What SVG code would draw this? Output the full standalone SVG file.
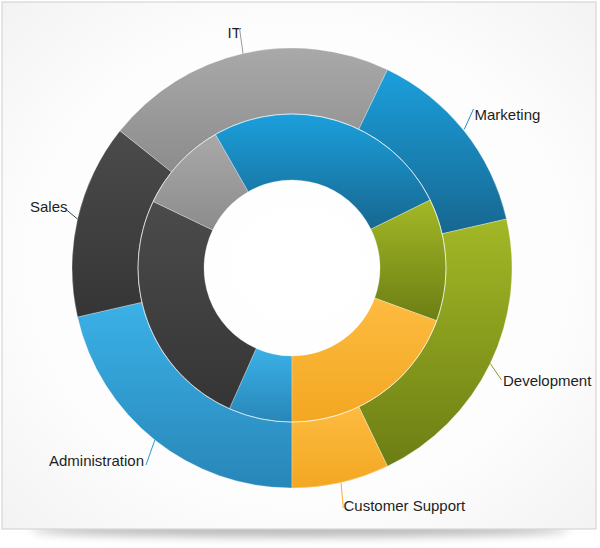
<svg xmlns="http://www.w3.org/2000/svg" width="600" height="548" viewBox="0 0 600 548">
<defs>
<radialGradient id="bg" cx="0.5" cy="0.5" r="0.75">
<stop offset="0" stop-color="#ffffff"/>
<stop offset="0.6" stop-color="#fdfdfd"/>
<stop offset="1" stop-color="#f1f1f1"/>
</radialGradient>
<filter id="blur" x="-20%" y="-200%" width="140%" height="500%">
<feGaussianBlur stdDeviation="5"/>
</filter>
<linearGradient id="gBlue" x1="0" y1="0" x2="0" y2="1"><stop offset="0" stop-color="#1b9fdc"/><stop offset="1" stop-color="#176790"/></linearGradient>
<linearGradient id="gLBlue" x1="0" y1="0" x2="0" y2="1"><stop offset="0" stop-color="#3bb1e7"/><stop offset="1" stop-color="#2886b8"/></linearGradient>
<linearGradient id="gGreen" x1="0" y1="0" x2="0" y2="1"><stop offset="0" stop-color="#a3b826"/><stop offset="1" stop-color="#6c7e14"/></linearGradient>
<linearGradient id="gOrange" x1="0" y1="0" x2="0" y2="1"><stop offset="0" stop-color="#fdbb40"/><stop offset="1" stop-color="#f3a722"/></linearGradient>
<linearGradient id="gGray" x1="0" y1="0" x2="0" y2="1"><stop offset="0" stop-color="#a9a9a9"/><stop offset="1" stop-color="#8c8c8c"/></linearGradient>
<linearGradient id="gDark" x1="0" y1="0" x2="0" y2="1"><stop offset="0" stop-color="#4b4b4b"/><stop offset="1" stop-color="#353535"/></linearGradient>
</defs>
<style>
.seg{stroke:#ffffff;stroke-opacity:0.4;stroke-width:0.7;stroke-linejoin:round}
.lbl{font-family:"Liberation Sans",Arial,sans-serif;font-size:15px;fill:#1e1e1e}
.lead{fill:none;stroke-width:1}
</style>
<ellipse cx="300" cy="530" rx="270" ry="7" fill="#000" opacity="0.28" filter="url(#blur)"/>
<rect x="2" y="2" width="594" height="527" fill="url(#bg)" stroke="#d6d6d6" stroke-width="1.2"/>

<g id="administration">
<path class="seg" fill="url(#gLBlue)" d="M 292 488 A 220 220 0 0 1 77.52 316.95 L 141.86 302.27 A 154 154 0 0 0 292 422 Z"/>
<path class="seg" fill="url(#gLBlue)" d="M 292 422 A 154 154 0 0 1 229.36 408.69 L 256.21 348.39 A 88 88 0 0 0 292 356 Z"/>
<text class="lbl" x="49" y="466">Administration</text>
</g>
<g id="sales">
<path class="seg" fill="url(#gDark)" d="M 77.52 316.95 A 220 220 0 0 1 120.00 130.83 L 171.60 171.98 A 154 154 0 0 0 141.86 302.27 Z"/>
<path class="seg" fill="url(#gDark)" d="M 229.36 408.69 A 154 154 0 0 1 153.12 201.46 L 212.64 229.98 A 88 88 0 0 0 256.21 348.39 Z"/>
<text class="lbl" x="30" y="212">Sales</text>
</g>
<g id="it">
<path class="seg" fill="url(#gGray)" d="M 120.00 130.83 A 220 220 0 0 1 387.45 69.79 L 358.82 129.25 A 154 154 0 0 0 171.60 171.98 Z"/>
<path class="seg" fill="url(#gGray)" d="M 153.12 201.46 A 154 154 0 0 1 215.47 134.36 L 248.27 191.64 A 88 88 0 0 0 212.64 229.98 Z"/>
<text class="lbl" x="227.5" y="37.5">IT</text>
</g>
<g id="marketing">
<path class="seg" fill="url(#gBlue)" d="M 387.45 69.79 A 220 220 0 0 1 506.48 219.05 L 442.14 233.73 A 154 154 0 0 0 358.82 129.25 Z"/>
<path class="seg" fill="url(#gBlue)" d="M 215.47 134.36 A 154 154 0 0 1 430.18 200.01 L 370.96 229.15 A 88 88 0 0 0 248.27 191.64 Z"/>
<text class="lbl" x="474.5" y="119.5">Marketing</text>
</g>
<g id="development">
<path class="seg" fill="url(#gGreen)" d="M 506.48 219.05 A 220 220 0 0 1 387.45 466.21 L 358.82 406.75 A 154 154 0 0 0 442.14 233.73 Z"/>
<path class="seg" fill="url(#gGreen)" d="M 430.18 200.01 A 154 154 0 0 1 436.71 320.67 L 374.69 298.10 A 88 88 0 0 0 370.96 229.15 Z"/>
<text class="lbl" x="503" y="386">Development</text>
</g>
<g id="customer-support">
<path class="seg" fill="url(#gOrange)" d="M 387.45 466.21 A 220 220 0 0 1 292 488 L 292 422 A 154 154 0 0 0 358.82 406.75 Z"/>
<path class="seg" fill="url(#gOrange)" d="M 436.71 320.67 A 154 154 0 0 1 292 422 L 292 356 A 88 88 0 0 0 374.69 298.10 Z"/>
<text class="lbl" x="343.5" y="511">Customer Support</text>
</g>
<circle cx="292" cy="268" r="154" fill="none" stroke="#ffffff" stroke-opacity="0.6" stroke-width="0.9"/>

<g id="connectors">
<path class="lead" stroke="#9a9a9a" d="M 243 53.5 L 239.5 28"/>
<path class="lead" stroke="#1b8cc4" d="M 464.3 129.3 L 473.5 109"/>
<path class="lead" stroke="#444444" d="M 77.5 219 L 63 207"/>
<path class="lead" stroke="#8a9a22" d="M 490.2 363.4 L 501.5 380"/>
<path class="lead" stroke="#2a9ad2" d="M 154.8 440 L 146 465"/>
<path class="lead" stroke="#f2b030" d="M 341 482.5 L 343.3 508"/>
</g>
</svg>
